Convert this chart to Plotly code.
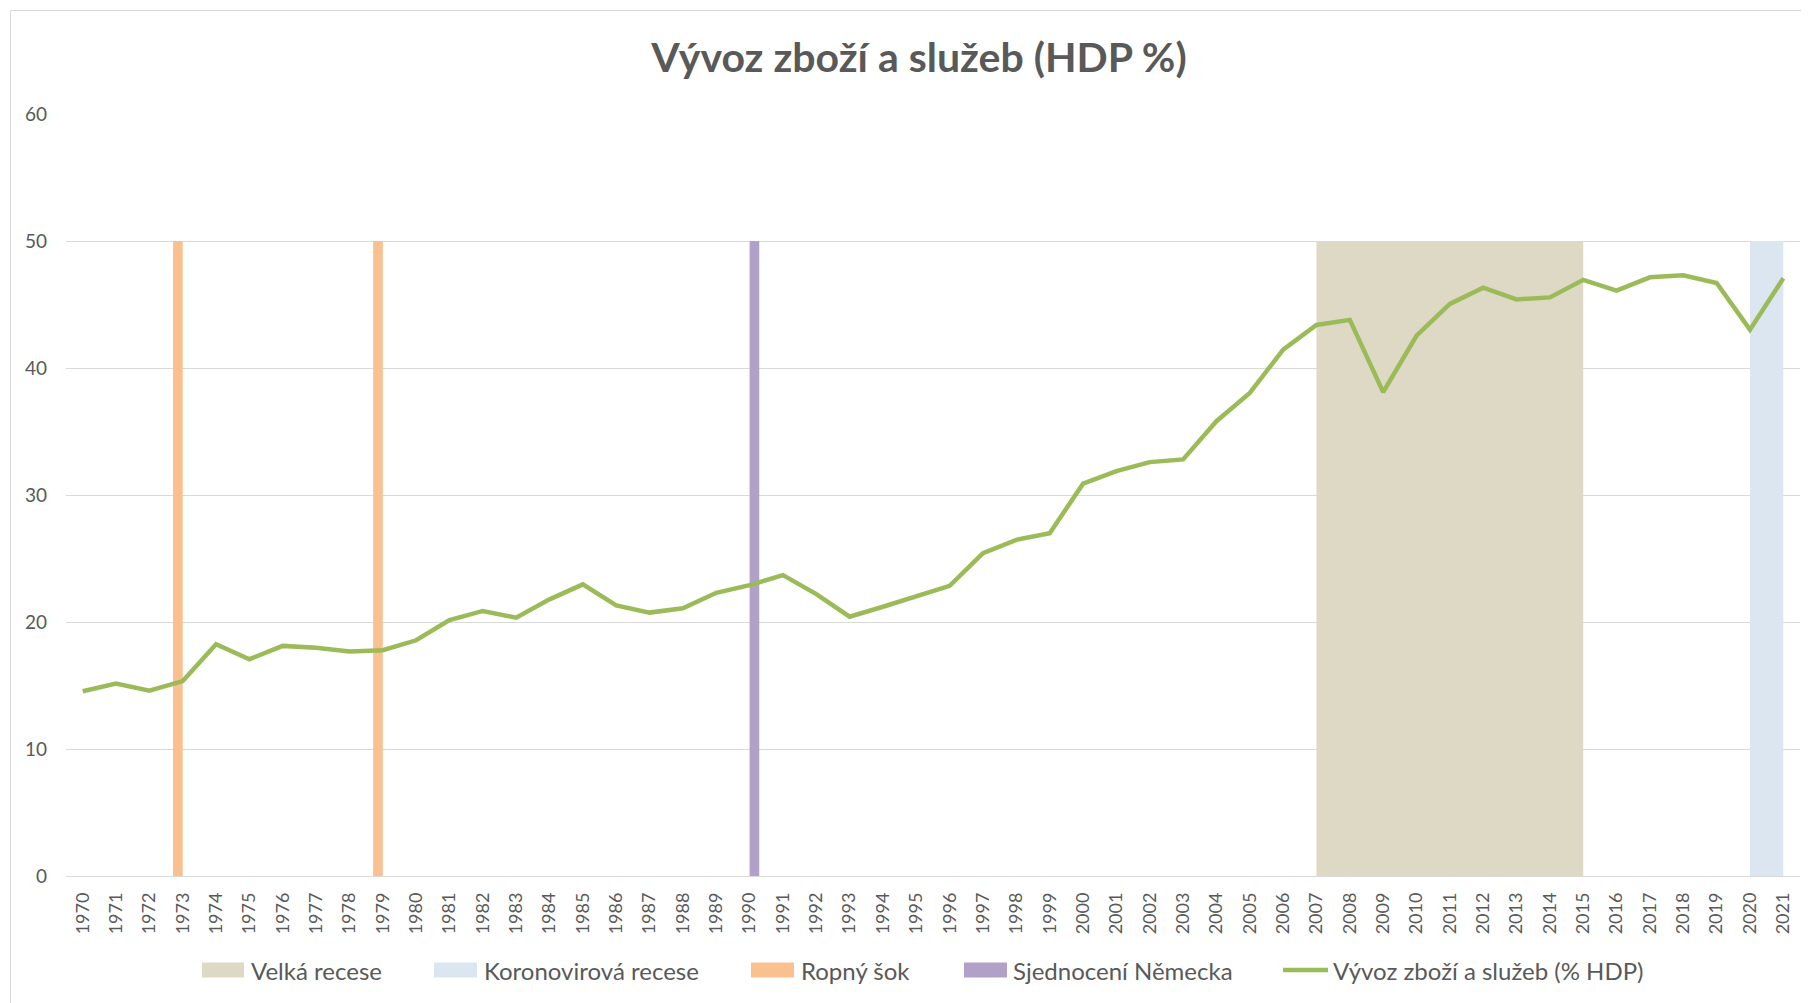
import plotly.graph_objects as go

# ---------------- data ----------------
years = list(range(1970, 2022))
tick_labels = [str(y) for y in years]
export_share = [14.55, 15.15, 14.6, 15.35, 18.25, 17.07, 18.12, 17.98, 17.67, 17.78,
                18.56, 20.16, 20.87, 20.34, 21.78, 22.96, 21.31, 20.74, 21.08, 22.3,
                22.9, 23.69, 22.2, 20.42, 21.2, 21.98, 22.85, 25.42, 26.47, 26.99,
                30.89, 31.88, 32.59, 32.8, 35.81, 38.04, 41.44, 43.39, 43.79, 38.1,
                42.54, 45.04, 46.33, 45.4, 45.56, 46.94, 46.09, 47.14, 47.3, 46.69,
                43.02, 47.06]

great_recession_years = [2007, 2008, 2009, 2010, 2011, 2012, 2013, 2014, 2015]
great_recession_vals = [50] * len(great_recession_years)
covid_years = [2020, 2021]
covid_vals = [50, 50]
oil_shock_years = [1973, 1979]
oil_shock_vals = [50, 50]
reunification_years = [1990]
reunification_vals = [50]

y_ticks = [0, 10, 20, 30, 40, 50, 60]

names = ["Velká recese", "Koronovirová recese", "Ropný šok", "Sjednocení Německa",
         "Vývoz zboží a služeb (% HDP)"]
title_text = "Vývoz zboží a služeb (HDP %)"

# ---------------- style ----------------
C_BEIGE = "#DDD9C4"
C_BLUE = "#DCE6F1"
C_ORANGE = "#FAC090"
C_PURPLE = "#B1A0C7"
C_GREEN = "#9BBB59"
C_TEXT = "#595959"
C_GRID = "#D9D9D9"
FONT = "Lato"

# page body has an 8px margin; figure coordinates = screen coordinates - 8
OFF = 8
W, H = 1801, 995
ML, MR, MT, MB = 66 - OFF, 9, 114 - OFF, 127
PW, PH = W - ML - MR, H - MT - MB


def px2x(px):
    return (px - OFF - ML) / PW


def py2y(py):
    return (H - MB - (py - OFF)) / PH


fig = go.Figure()

fig.add_trace(go.Scatter(x=great_recession_years, y=great_recession_vals, mode="lines",
                         line=dict(width=0, color=C_BEIGE), fill="tozeroy",
                         fillcolor=C_BEIGE, name=names[0], showlegend=False,
                         hoverinfo="skip"))
fig.add_trace(go.Scatter(x=covid_years, y=covid_vals, mode="lines",
                         line=dict(width=0, color=C_BLUE), fill="tozeroy",
                         fillcolor=C_BLUE, name=names[1], showlegend=False,
                         hoverinfo="skip"))
fig.add_trace(go.Bar(x=oil_shock_years, y=oil_shock_vals, width=0.29, offset=-0.29,
                     marker=dict(color=C_ORANGE, line=dict(width=0)), name=names[2],
                     showlegend=False))
fig.add_trace(go.Bar(x=reunification_years, y=reunification_vals, width=0.29, offset=0,
                     marker=dict(color=C_PURPLE, line=dict(width=0)), name=names[3],
                     showlegend=False))
fig.add_trace(go.Scatter(x=years, y=export_share, mode="lines",
                         line=dict(color=C_GREEN, width=4.5), name=names[4],
                         showlegend=False))

# custom legend (swatches + labels), screen pixel positions
legend_items = [
    ("rect", C_BEIGE, 202, 244, 249, names[0]),
    ("rect", C_BLUE, 434, 477, 482, names[1]),
    ("rect", C_ORANGE, 751, 794, 799, names[2]),
    ("rect", C_PURPLE, 964, 1007, 1011, names[3]),
    ("line", C_GREEN, 1283, 1328, 1331, names[4]),
]
shapes = []
annotations = []
LEG_Y = 970
for kind, col, x0, x1, tx, label in legend_items:
    if kind == "rect":
        shapes.append(dict(type="rect", xref="paper", yref="paper",
                           x0=px2x(x0), x1=px2x(x1), y0=py2y(LEG_Y + 7.5), y1=py2y(LEG_Y - 7.5),
                           fillcolor=col, line=dict(width=0), layer="above"))
    else:
        shapes.append(dict(type="line", xref="paper", yref="paper",
                           x0=px2x(x0), x1=px2x(x1), y0=py2y(LEG_Y), y1=py2y(LEG_Y),
                           line=dict(color=col, width=4.5), layer="above"))
    annotations.append(dict(text=label, xref="paper", yref="paper", x=px2x(tx), y=py2y(LEG_Y),
                            xanchor="left", yanchor="middle", showarrow=False,
                            font=dict(family=FONT, size=24, color=C_TEXT)))

# chart frame
shapes.append(dict(type="rect", xref="paper", yref="paper",
                   x0=px2x(10.5), x1=px2x(1830), y0=py2y(1030), y1=py2y(10.5),
                   line=dict(color=C_GRID, width=1), fillcolor="rgba(0,0,0,0)", layer="below"))

fig.update_layout(
    width=W, height=H,
    margin=dict(l=ML, r=MR, t=MT, b=MB, pad=0),
    paper_bgcolor="white", plot_bgcolor="white",
    barmode="overlay",
    title=dict(text=title_text, x=(919 - OFF) / W, xanchor="center", xref="container",
               y=1 - (58 - OFF) / H, yanchor="middle", yref="container",
               font=dict(family=FONT, size=41, color=C_TEXT, weight="bold")),
    xaxis=dict(range=[1969.5, 2021.5], tickmode="array", tickvals=years, ticktext=tick_labels,
               tickangle=-90, showgrid=False, zeroline=False, showline=False, ticks="",
               ticklabelstandoff=12,
               tickfont=dict(family=FONT, size=18, color=C_TEXT)),
    yaxis=dict(range=[0, 60], tickmode="array", tickvals=y_ticks, showgrid=True,
               gridcolor=C_GRID, gridwidth=1.3, zeroline=True, zerolinecolor=C_GRID,
               zerolinewidth=1.3, showline=False, ticks="", ticklabelstandoff=18,
               tickfont=dict(family=FONT, size=19, color=C_TEXT)),
    shapes=shapes,
    annotations=annotations,
    showlegend=False,
)

fig.write_html("out.html")
